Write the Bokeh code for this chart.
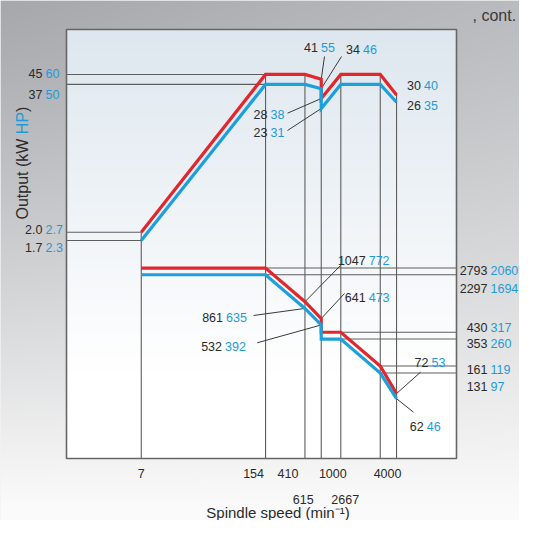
import numpy as np
from bokeh.plotting import figure
from bokeh.models import Range1d, LogScale
from bokeh.embed import file_html
from bokeh.resources import INLINE
from bokeh.core.properties import value

# ---------------- data ----------------
speed = [7, 154, 410, 615, 615, 1000, 2667, 4000]          # min^-1
kw_red = [2.0, 45, 45, 41, 28, 45, 45, 30]                  # output, kW
kw_blue = [1.7, 37, 37, 34, 23, 37, 37, 26]
nm_red = [2793, 2793, 1047, 641, 430, 430, 161, 72]         # torque, N·m
nm_blue = [2297, 2297, 861, 532, 353, 353, 131, 62]

speed_row1 = [7, 154, 410, 1000, 4000]
speed_row2 = [615, 2667]

kw_ticks = [45, 37, 2.0, 1.7]
hp_ticks = [60, 50, 2.7, 2.3]
kw_tick_until = [154, 154, 7, 7]

nm_ticks = [2793, 2297, 430, 353, 161, 131]
ftlbf_ticks = [2060, 1694, 317, 260, 119, 97]
nm_tick_from = [154, 154, 615, 615, 2667, 2667]

kw_callout = [41, 34, 28, 23, 30, 26]
hp_callout = [55, 46, 38, 31, 40, 35]
kw_callout_speed = [615, 615, 615, 615, 4000, 4000]

nm_callout = [1047, 641, 861, 532, 72, 62]
ftlbf_callout = [772, 473, 635, 392, 53, 46]
nm_callout_speed = [410, 615, 410, 615, 4000, 4000]

# ---------------- layout / style ----------------
W, H = 519, 520
XA, XB = 62.5, 92.6      # px = XA + XB*log10(speed)
PA, PB = 266.9, 116.7    # py = PA - PB*log10(kW)
TA, TB = 539.8, 79.0     # py = TA - TB*log10(N·m)


def sx(px):
    return 10 ** ((px - XA) / XB)


def sp(py):
    return 10 ** ((PA - py) / PB)


def st(py):
    return 10 ** ((TA - py) / TB)


BOX_L, BOX_R, BOX_T, BOX_B = 66, 456, 29, 458
RED = "#e3262b"
BLUE = "#1c9fdb"
TXT = "#2b2b2b"
TBLUE = "#1e9bd7"
GRID = "#5e5e5e"
FONT = "Liberation Sans"

p = figure(width=W, height=H, title=None,
           x_axis_type="log", y_axis_type="log",
           x_range=Range1d(sx(0), sx(W)),
           y_range=Range1d(sp(H), sp(0)),
           x_axis_location=None, y_axis_location=None,
           toolbar_location=None, output_backend="svg", min_border=0)
p.extra_y_ranges = {"torque": Range1d(st(H), st(0))}
p.extra_y_scales = {"torque": LogScale()}
p.xgrid.visible = False
p.ygrid.visible = False
p.outline_line_color = None
p.background_fill_color = "#e8e8e8"
p.border_fill_color = "#e8e8e8"

# background gradients
ny, nx = 260, 130
yy = np.linspace(0, 1, ny)[:, None, None]
xx = np.linspace(0, 1, nx)[None, :, None]
top_c = np.array([166, 168, 172]) + (np.array([186, 187, 190]) - np.array([166, 168, 172])) * xx
bot_c = np.array([250, 250, 250])
t = np.clip(yy / 0.97, 0, 1) ** 1.1
rgb = top_c + (bot_c - top_c) * t
img = np.empty((ny, nx), dtype=np.uint32)
v = img.view(dtype=np.uint8).reshape((ny, nx, 4))
v[:, :, :3] = np.flipud(rgb).astype(np.uint8)
v[:, :, 3] = 255
p.image_rgba(image=[img], x=sx(0), y=sp(H), dw=sx(W) - sx(0), dh=sp(0) - sp(H))

yy2 = np.linspace(0, 1, ny)[:, None, None]
t2 = np.clip(yy2 / 0.8, 0, 1)
rgb2 = np.array([222, 231, 239]) + (np.array([255, 255, 255]) - np.array([222, 231, 239])) * t2
rgb2 = np.repeat(rgb2, 4, axis=1)
img2 = np.empty((ny, 4), dtype=np.uint32)
v2 = img2.view(dtype=np.uint8).reshape((ny, 4, 4))
v2[:, :, :3] = np.flipud(rgb2).astype(np.uint8)
v2[:, :, 3] = 255
p.image_rgba(image=[img2], x=sx(BOX_L), y=sp(BOX_B),
             dw=sx(BOX_R) - sx(BOX_L), dh=sp(BOX_T) - sp(BOX_B))

# reference lines
grid_speeds = sorted(set(speed))
grid_top = [max(k for s, k in zip(speed, kw_red) if s == g) for g in grid_speeds]
p.segment(x0=grid_speeds, y0=[sp(BOX_B)] * len(grid_speeds), x1=grid_speeds, y1=grid_top,
          line_color=GRID, line_width=1.1)
p.segment(x0=[sx(BOX_L)] * len(kw_ticks), y0=kw_ticks, x1=kw_tick_until, y1=kw_ticks,
          line_color=GRID, line_width=1.1)
p.segment(x0=nm_tick_from, y0=nm_ticks, x1=[sx(BOX_R)] * len(nm_ticks), y1=nm_ticks,
          line_color=GRID, line_width=1.1, y_range_name="torque")

# leader lines
pw_lead_start = [(324, 56), (341, 56), (287, 112.7), (287, 130)]
p.segment(x0=[sx(a) for a, b in pw_lead_start], y0=[sp(b) for a, b in pw_lead_start],
          x1=kw_callout_speed[:4], y1=kw_callout[:4], line_color="#3a3a3a", line_width=1)
tq_lead_start = [(340, 265), (344, 293), (253, 315), (256.7, 342.3), (420, 371.7), (413, 411.7)]
p.segment(x0=[sx(a) for a, b in tq_lead_start], y0=[st(b) for a, b in tq_lead_start],
          x1=nm_callout_speed, y1=nm_callout, line_color="#3a3a3a", line_width=1,
          y_range_name="torque")

# curves
p.line(speed, kw_red, line_color=RED, line_width=3.2, line_join="miter")
p.line(speed, kw_blue, line_color=BLUE, line_width=3.2, line_join="miter")
p.line(speed, nm_red, line_color=RED, line_width=3.2, line_join="miter", y_range_name="torque")
p.line(speed, nm_blue, line_color=BLUE, line_width=3.2, line_join="miter", y_range_name="torque")

# plot box
p.quad(left=sx(BOX_L), right=sx(BOX_R), bottom=sp(BOX_B), top=sp(BOX_T),
       fill_color=None, line_color="#666666", line_width=1.6)


def txt(xs, ys, texts, color, align, size="12.5px", baseline="middle", angle=0.0, x_offset=0):
    p.text(x=xs, y=ys, text=texts, text_color=color, text_align=align,
           text_baseline=baseline, text_font=value(FONT), text_font_size=size,
           angle=angle, x_offset=x_offset)


def pair(split_px, center_py, blacks, blues):
    ys = [sp(c) for c in center_py]
    txt([sx(s - 1.5) for s in split_px], ys, [str(b) for b in blacks], TXT, "right")
    txt([sx(s + 1.5) for s in split_px], ys, [str(b) for b in blues], TBLUE, "left")


# left output labels
pair([43.5] * 4, [73, 94, 229.3, 246.7], kw_ticks, hp_ticks)
# right torque labels
pair([488.5] * 6, [270, 287.7, 326.7, 343.3, 369, 385.7], nm_ticks, ftlbf_ticks)
# output call-outs
pair([319, 361, 268.5, 268.5, 422, 422], [46.5, 49, 114, 132, 84.7, 105], kw_callout, hp_callout)
# torque call-outs
pair([366.7, 366.7, 224, 223, 429.5, 424.7], [260.3, 296.7, 317.3, 346, 362, 426],
     nm_callout, ftlbf_callout)

# speed labels
txt(speed_row1, [sp(472.5)] * len(speed_row1), [str(s) for s in speed_row1], TXT, "center",
    x_offset=[0, -12, -17, -8, -9])
txt(speed_row2, [sp(499)] * len(speed_row2), [str(s) for s in speed_row2], TXT, "center",
    x_offset=[-18, -35])

# axis titles
txt([sx(277.5)], [sp(511.5)], ["Spindle speed (min\u207b\u00b9)"], TXT, "center", size="15px")
fs = 16
w1 = 5.335 * fs
w2 = 1.389 * fs
y_start = 219
txt([sx(22)], [sp(y_start)], ["Output (kW"], TXT, "left", size=f"{fs}px", angle=np.pi / 2)
txt([sx(22)], [sp(y_start - w1)], ["HP"], TBLUE, "left", size=f"{fs}px", angle=np.pi / 2)
txt([sx(22)], [sp(y_start - w1 - w2)], [")"], TXT, "left", size=f"{fs}px", angle=np.pi / 2)

# continuation note at top
txt([sx(472)], [sp(15)], [", cont."], "#3a3a3a", "left", size="16px", baseline="alphabetic")

open("out.html", "w").write(file_html(p, INLINE))
